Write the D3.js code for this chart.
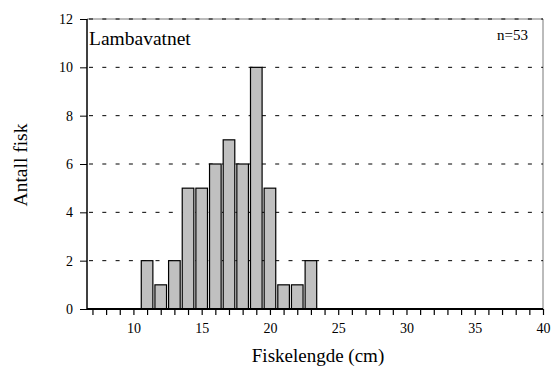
<!DOCTYPE html>
<html>
<head>
<meta charset="utf-8">
<script src="https://cdn.jsdelivr.net/npm/d3@7/dist/d3.min.js"></script>
<style>
  html, body { margin: 0; padding: 0; background: #fff; }
  svg text { font-family: "Liberation Serif", "Times New Roman", Times, "DejaVu Serif", serif; fill: #000; }
</style>
</head>
<body>
<svg id="chart" width="551" height="367"></svg>
<script>
// Length classes (cm) and number of fish in each
const lengths = [11, 12, 13, 14, 15, 16, 17, 18, 19, 20, 21, 22, 23];
const counts  = [2, 1, 2, 5, 5, 6, 7, 6, 10, 5, 1, 1, 2];
const yTicks = [0, 2, 4, 6, 8, 10, 12];
const xLabelTicks = [10, 15, 20, 25, 30, 35, 40];
const lakeName = "Lambavatnet";
const sampleLabel = "n=53";

const serif = '"Liberation Serif", "Times New Roman", Times, "DejaVu Serif", serif';
const svg = d3.select("#chart");
const plotL = 87, plotR = 543, plotT = 19, plotB = 309;

const x = d3.scaleLinear().domain([6.6, 40]).range([plotL, plotR]);
const y = d3.scaleLinear().domain([0, 12]).range([plotB, plotT]);
const barW = 11.6;

// frame (top and right sides)
svg.append("path")
  .attr("d", `M${plotL},${plotT}H${plotR}V${plotB}`)
  .attr("fill", "none").attr("stroke", "#555").attr("stroke-width", 0.8);

// dashed grid lines
svg.append("g").selectAll("line")
  .data(yTicks.filter(d => d > 0))
  .join("line")
  .attr("x1", plotL + 2).attr("x2", plotR)
  .attr("y1", d => y(d)).attr("y2", d => y(d))
  .attr("stroke", "#000").attr("stroke-width", 1)
  .attr("stroke-dasharray", "4,9.3");

// bars
svg.append("g").selectAll("rect")
  .data(lengths.map((l, i) => ({ l, c: counts[i] })))
  .join("rect")
  .attr("x", d => x(d.l) - barW / 2)
  .attr("width", barW)
  .attr("y", d => y(d.c))
  .attr("height", d => y(0) - y(d.c))
  .attr("fill", "#c0c0c0")
  .attr("stroke", "#000").attr("stroke-width", 1.2);

// y axis
const yAxis = d3.axisLeft(y).tickValues(yTicks).tickSize(7).tickPadding(7);
const gy = svg.append("g").attr("transform", `translate(${plotL},0)`).call(yAxis)
  .attr("font-family", serif).attr("font-size", 14);
gy.select(".domain").attr("stroke-width", 1.5).attr("d", `M0,${plotT}V${plotB}`);
gy.selectAll("text").style("font-family", serif).style("font-size", "14px");

// x axis: a tick at every centimetre, labels every 5
const xAxis = d3.axisBottom(x).tickValues(d3.range(7, 41)).tickSize(6).tickPadding(8)
  .tickFormat(d => xLabelTicks.includes(d) ? d : "");
const gx = svg.append("g").attr("transform", `translate(0,${plotB})`).call(xAxis)
  .attr("font-family", serif).attr("font-size", 14);
gx.select(".domain").attr("stroke-width", 1.8).attr("d", `M${plotL},0H${plotR}`);
gx.selectAll("line").attr("stroke-width", 1.2);
gx.selectAll("text").style("font-family", serif).style("font-size", "14px");

// labels
svg.append("text").attr("x", 89).attr("y", 45).style("font-size", "19.5px").text(lakeName);
svg.append("text").attr("x", 528).attr("y", 40).attr("text-anchor", "end")
  .style("font-size", "15px").text(sampleLabel);
svg.append("text").attr("transform", "translate(27,165) rotate(-90)")
  .attr("text-anchor", "middle").style("font-size", "19.5px").text("Antall fisk");
svg.append("text").attr("x", 318).attr("y", 362)
  .attr("text-anchor", "middle").style("font-size", "19px").text("Fiskelengde (cm)");
</script>
</body>
</html>
